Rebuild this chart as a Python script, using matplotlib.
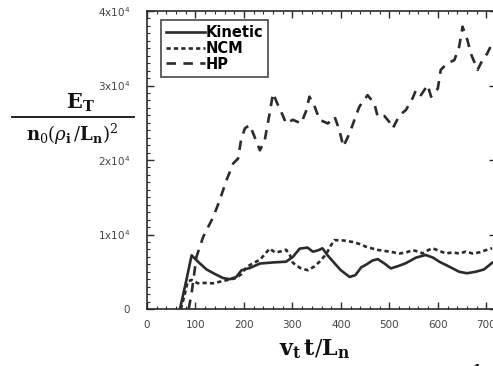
import numpy as np
import matplotlib
matplotlib.use("Agg")
import matplotlib.pyplot as plt
from matplotlib.ticker import MultipleLocator, FuncFormatter
from matplotlib.lines import Line2D

# values
kin_t = [68, 80, 92, 106, 123, 140, 157, 171, 184, 195, 212, 233, 260, 287, 301, 315, 331,
         342, 352, 362, 372, 386, 400, 418, 430, 442, 452, 465, 476, 490, 503, 520, 534, 555,
         575, 590, 603, 620, 644, 660, 678, 695, 712]
kin_e = [0, 3500, 7200, 6300, 5300, 4700, 4150, 4000, 4300, 5200, 5500, 6100, 6250, 6350, 7000,
         8100, 8250, 7700, 7850, 8150, 7250, 6200, 5200, 4300, 4550, 5600, 5950, 6500, 6700,
         6100, 5450, 5800, 6150, 6900, 7250, 6900, 6350, 5800, 5000, 4800, 5000, 5300, 6200]

ncm_t = [70, 78, 84, 92, 105, 120, 136, 160, 184, 195, 205, 220, 233, 245, 253, 264, 274, 287,
         295, 301, 316, 332, 345, 356, 370, 380, 387, 405, 424, 440, 452, 466, 479, 500, 521,
         535, 548, 560, 569, 580, 589, 603, 617, 630, 644, 658, 672, 686, 699, 712]
ncm_e = [0, 2000, 3700, 3900, 3450, 3500, 3450, 3800, 4150, 4700, 5600, 6200, 6600, 7500, 8100,
         7600, 7700, 7950, 7200, 6200, 5500, 5200, 5700, 6350, 7400, 8600, 9250, 9200, 9000,
         8700, 8350, 8100, 7900, 7700, 7450, 7600, 7900, 7700, 7450, 7900, 8150, 7800, 7450,
         7600, 7450, 7700, 7450, 7600, 7900, 8150]

hp_t = [86, 92, 102, 116, 137, 150, 164, 178, 188, 194, 202, 212, 222, 233, 243, 253, 260, 270,
        280, 287, 301, 318, 329, 335, 346, 356, 373, 387, 397, 405, 418, 428, 438, 455, 469,
        476, 490, 500, 507, 521, 534, 548, 555, 565, 579, 586, 600, 606, 620, 634, 644, 651,
        661, 668, 682, 692, 702, 712]
hp_e = [0, 2100, 7000, 9700, 12400, 14600, 17300, 19550, 20200, 22700, 24250, 24700, 23100,
        21300, 22700, 26250, 28950, 27400, 26000, 24900, 25400, 24900, 26700, 28500, 27150,
        25400, 24900, 25800, 24000, 21800, 23600, 25400, 27150, 28700, 27600, 25800, 25900,
        25100, 24250, 26000, 26700, 28300, 29400, 28700, 30060, 28500, 29600, 32100, 33000,
        33400, 35200, 37900, 36100, 34300, 32100, 33400, 34300, 35650]

ink = '#2b2b2b'

fig = plt.figure(figsize=(4.93, 3.66), dpi=100)
ax = fig.add_axes([147/493, 57/366, 349/493, 298/366])

ax.plot(kin_t, kin_e, color=ink, lw=1.9, ls='-', label='Kinetic')
ax.plot(ncm_t, ncm_e, color=ink, lw=1.9, ls=(0, (1.6, 1.2)), label='NCM')
ax.plot(hp_t, hp_e, color=ink, lw=1.9, ls=(0, (3.6, 2.8)), label='HP')

ax.set_xlim(0, 720)
ax.set_ylim(0, 40000)
ax.xaxis.set_major_locator(MultipleLocator(100))
ax.xaxis.set_minor_locator(MultipleLocator(20))
ax.yaxis.set_major_locator(MultipleLocator(10000))
ax.yaxis.set_minor_locator(MultipleLocator(1000))

def ylab(v, pos):
    if v == 0:
        return '0'
    return '%dx10$^4$' % int(round(v / 10000))

ax.yaxis.set_major_formatter(FuncFormatter(ylab))
ax.tick_params(which='both', direction='in', top=True, right=True, colors=ink,
               labelsize=7.5, labelcolor='#444444')
ax.tick_params(which='major', length=5, width=1)
ax.tick_params(which='minor', length=2.5, width=0.8)
ax.tick_params(axis='y', pad=12)
ax.tick_params(axis='x', pad=8)
for s in ax.spines.values():
    s.set_color(ink)
    s.set_linewidth(1.2)

leg = ax.legend(loc='upper left', bbox_to_anchor=(0.04, 0.97), frameon=True, fancybox=False,
                edgecolor=ink, handlelength=2.7, handletextpad=0.0, labelspacing=0.05,
                borderpad=0.35, borderaxespad=0.0,
                prop={'weight': 'bold', 'size': 10.5})
leg.get_frame().set_linewidth(1.3)

# y label drawn as a fraction
plt.rcParams['mathtext.fontset'] = 'dejavuserif'
fig.text(80/493, 1 - 103/366, r'$\mathbf{E}_\mathbf{T}$', ha='center', va='center',
         fontsize=15, color='#111111')
fig.add_artist(Line2D([12/493, 134/493], [1 - 117/366, 1 - 117/366], color='#111111', lw=1.3))
fig.text(72/493, 1 - 134/366, r'$\mathbf{n}_0(\rho_\mathbf{i}\,/\mathbf{L}_\mathbf{n})^2$',
         ha='center', va='center', fontsize=13, color='#111111')

fig.text(315/493, 1 - 349/366, r'$\mathbf{v}_\mathbf{t}\,\mathbf{t}/\mathbf{L}_\mathbf{n}$',
         ha='center', va='center', fontsize=16, color='#111111')

# fragment of a character cut by the bottom edge of the scan
fig.text(477/493, -4/366, '1', ha='center', va='center', fontsize=9,
         fontweight='bold', family='serif', color='#111111')

fig.savefig('out.png', dpi=100)
